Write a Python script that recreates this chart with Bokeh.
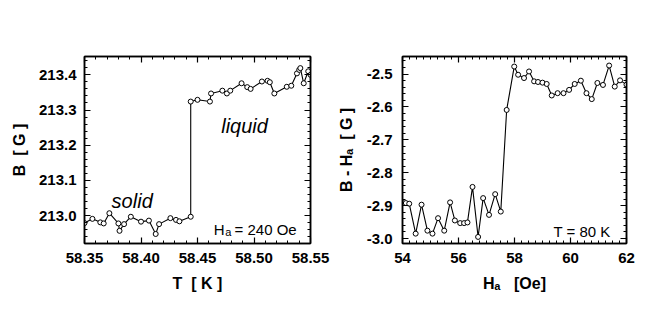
from bokeh.plotting import figure
from bokeh.layouts import row
from bokeh.models import Range1d, FixedTicker, PrintfTickFormatter, LinearAxis, Label
from bokeh.embed import file_html
from bokeh.resources import INLINE
import numpy as np

# ---- left panel: B vs T at Ha = 240 Oe ----
T_K = [58.350, 58.357, 58.364, 58.367, 58.372, 58.380, 58.381, 58.385, 58.391, 58.400,
       58.407, 58.413, 58.416, 58.426, 58.431, 58.434, 58.444,
       58.444, 58.450, 58.461, 58.462, 58.472, 58.476, 58.479, 58.489, 58.494,
       58.497, 58.507, 58.512, 58.514, 58.518, 58.529, 58.533, 58.538, 58.540,
       58.541, 58.544, 58.548, 58.550]
B_G = [212.979, 212.991, 212.981, 212.978, 213.007, 212.978, 212.957, 212.976, 212.997, 212.983,
       212.986, 212.948, 212.976, 212.993, 212.988, 212.984, 212.997,
       213.324, 213.329, 213.324, 213.347, 213.355, 213.347, 213.355, 213.376, 213.365,
       213.360, 213.381, 213.383, 213.379, 213.347, 213.366, 213.369, 213.404, 213.414,
       213.419, 213.376, 213.410, 213.400]

# ---- right panel: B - Ha vs Ha at T = 80 K ----
Ha_Oe = [54.00, 54.12, 54.24, 54.47, 54.68, 54.89, 55.07, 55.27, 55.49, 55.70,
         55.87, 56.06, 56.20, 56.32, 56.50, 56.70, 56.88, 57.09, 57.31, 57.51,
         57.72, 57.99, 58.13, 58.34, 58.52, 58.70, 58.84, 59.00, 59.15, 59.33,
         59.54, 59.75, 59.95, 60.15, 60.37, 60.57, 60.76, 60.96, 61.16, 61.38,
         61.58, 61.77, 62.00]
BmH_G = [-2.892, -2.892, -2.894, -2.985, -2.897, -2.976, -2.985, -2.938, -2.976, -2.890,
         -2.945, -2.953, -2.953, -2.951, -2.843, -2.995, -2.877, -2.928, -2.865, -2.918,
         -2.609, -2.477, -2.502, -2.512, -2.492, -2.522, -2.524, -2.526, -2.530, -2.565,
         -2.558, -2.558, -2.548, -2.530, -2.520, -2.558, -2.576, -2.527, -2.533, -2.474,
         -2.538, -2.519, -2.532]

# tick values
left_x_major = [58.35, 58.40, 58.45, 58.50, 58.55]
left_x_minor = list(np.round(np.arange(58.35, 58.5501, 0.01), 3))
left_y_major = [213.0, 213.1, 213.2, 213.3, 213.4]
left_y_minor = list(np.round(np.arange(212.92, 213.46, 0.02), 3))
right_x_major = [54, 56, 58, 60, 62]
right_x_minor = list(np.round(np.arange(54, 62.01, 0.25), 2))
right_y_major = [-3.0, -2.9, -2.8, -2.7, -2.6, -2.5]
right_y_minor = list(np.round(np.arange(-3.02, -2.44, 0.02), 3))

FONT = "Liberation Sans"
NB = "\u00a0"


def style_axis(ax, major, minor, fmt, show_labels=True):
    ax.ticker = FixedTicker(ticks=major, minor_ticks=minor)
    ax.formatter = PrintfTickFormatter(format=fmt)
    ax.major_tick_in = 6
    ax.major_tick_out = 0
    ax.minor_tick_in = 3
    ax.minor_tick_out = 0
    ax.axis_line_color = "black"
    ax.axis_line_width = 1.5
    ax.major_tick_line_width = 1.2
    ax.minor_tick_line_width = 1
    ax.major_tick_line_color = "black"
    ax.minor_tick_line_color = "black"
    ax.major_label_text_font = FONT
    ax.major_label_text_font_style = "bold"
    ax.major_label_text_color = "black"
    ax.major_label_text_font_size = "15px"
    if not show_labels:
        ax.major_label_overrides = {float(t): "" for t in major}
        ax.major_label_standoff = 0


def style_label(ax, standoff):
    ax.axis_label_text_font = FONT
    ax.axis_label_text_font_style = "bold"
    ax.axis_label_text_font_size = "16px"
    ax.axis_label_text_color = "black"
    ax.axis_label_standoff = standoff


def make_fig(width, xr, yr, left, right):
    p = figure(width=width, height=313, x_range=xr, y_range=yr,
               output_backend="svg", toolbar_location=None,
               min_border_left=left, min_border_right=right,
               min_border_top=56, min_border_bottom=70)
    p.xgrid.visible = False
    p.ygrid.visible = False
    p.outline_line_color = "black"
    p.outline_line_width = 1.5
    p.background_fill_color = "white"
    p.border_fill_color = "white"
    return p


def txt(x, y, text, size, style="normal"):
    return Label(x=x, y=y, text=text, text_font=FONT, text_font_style=style,
                 text_font_size=size, text_color="black", text_baseline="alphabetic")


# ---------- left figure ----------
p1 = make_fig(332, Range1d(58.35, 58.55), Range1d(212.921, 213.452), 84, 22)
style_axis(p1.xaxis[0], left_x_major, left_x_minor, "%.2f")
style_axis(p1.yaxis[0], left_y_major, left_y_minor, "%.1f")
p1.xaxis[0].major_label_standoff = 9
p1.yaxis[0].major_label_standoff = 8
p1.xaxis[0].axis_label = "T" + NB * 2 + "[" + NB + "K" + NB + "]"
p1.yaxis[0].axis_label = "B" + NB * 2 + "[" + NB + "G" + NB + "]"
style_label(p1.xaxis[0], 9)
style_label(p1.yaxis[0], 8)
top1 = LinearAxis()
right1 = LinearAxis()
style_axis(top1, left_x_major, left_x_minor, "%.2f", False)
style_axis(right1, left_y_major, left_y_minor, "%.1f", False)
p1.add_layout(top1, "above")
p1.add_layout(right1, "right")

p1.line(T_K, B_G, line_color="black", line_width=1.1)
p1.scatter(T_K, B_G, marker="circle", size=5, fill_color="white",
           line_color="black", line_width=1)

p1.add_layout(txt(58.374, 213.043, "solid", "20px", "italic"))
p1.add_layout(txt(58.471, 213.255, "liquid", "20px", "italic"))
p1.add_layout(txt(58.4644, 212.962, "H", "15px"))
p1.add_layout(txt(58.4745, 212.953, "a", "11px"))
p1.add_layout(txt(58.4828, 212.962, "= 240 Oe", "15px"))

# ---------- right figure ----------
p2 = make_fig(325, Range1d(54, 62), Range1d(-3.015, -2.4465), 70, 31)
style_axis(p2.xaxis[0], right_x_major, right_x_minor, "%d")
style_axis(p2.yaxis[0], right_y_major, right_y_minor, "%.1f")
p2.xaxis[0].major_label_standoff = 9
p2.yaxis[0].major_label_standoff = 10
p2.xaxis[0].axis_label = "H\u2090" + NB * 3 + "[Oe]"
p2.yaxis[0].axis_label = "B" + NB + "-" + NB + "H\u2090" + NB * 2 + "[" + NB + "G" + NB + "]"
style_label(p2.xaxis[0], 9)
style_label(p2.yaxis[0], 9)
top2 = LinearAxis()
right2 = LinearAxis()
style_axis(top2, right_x_major, right_x_minor, "%d", False)
style_axis(right2, right_y_major, right_y_minor, "%.1f", False)
p2.add_layout(top2, "above")
p2.add_layout(right2, "right")

p2.line(Ha_Oe, BmH_G, line_color="black", line_width=1.1)
p2.scatter(Ha_Oe, BmH_G, marker="circle", size=5, fill_color="white",
           line_color="black", line_width=1)

p2.add_layout(txt(59.393, -2.978, "T = 80 K", "15px"))

layout = row(p1, p2)
open("out.html", "w").write(file_html(layout, INLINE))
